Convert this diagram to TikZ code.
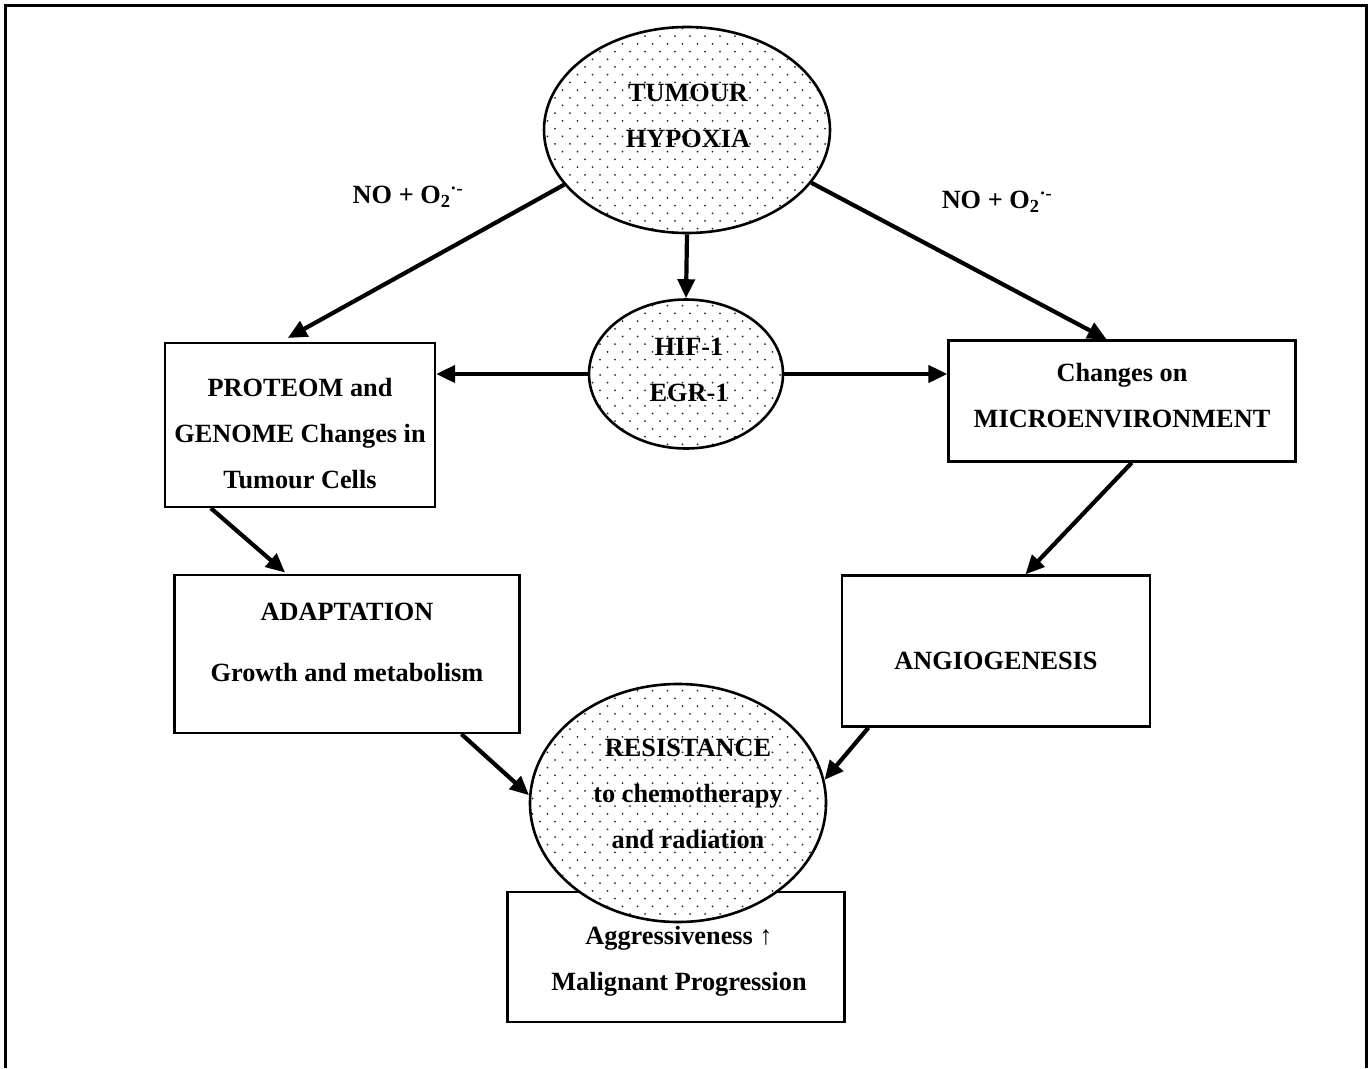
\documentclass[tikz,border=0pt]{standalone}
\usepackage{fontspec}
\setmainfont{Liberation Serif}
\usetikzlibrary{calc,patterns,shapes.geometric,arrows.meta}
\pgfdeclarepatternformonly{finedots}{\pgfqpoint{-1.2pt}{-1.2pt}}{\pgfqpoint{15pt}{15.4pt}}{\pgfqpoint{15pt}{15.4pt}}{%
	\pgfpathcircle{\pgfqpoint{0pt}{0pt}}{1pt}%
	\pgfpathcircle{\pgfqpoint{7.5pt}{7.7pt}}{1pt}%
	\pgfusepath{fill}}
\newcommand\bigbf{\bfseries\fontsize{26.3}{46}\selectfont}
\newcommand\superox{NO + O\textsubscript{2}\textsuperscript{·-}}

\begin{document}
\begin{tikzpicture}[x=1pt, y=-1pt,
		blob/.style={ellipse, draw, line width=2.6pt, inner sep=0pt, preaction={fill=white}, pattern=finedots, pattern color=black!85},
		box/.style={rectangle, draw, line width=2.3pt, inner sep=0pt},
		lbl/.style={font=\bigbf, align=center, inner sep=0pt},
		flow/.style={line width=4.2pt, -{Triangle[length=19pt,width=17pt]}}]
		%%%%% START %%%%%
		
		\useasboundingbox (0,0) rectangle (1370,1068);
		\draw[line width=3pt] (5,1068) -- (5,5) -- (1366,5) -- (1366,1068);
		
		\node[blob, minimum width=286, minimum height=206] (hyp) at (687,130) {};
		\node[blob, minimum width=194, minimum height=149] (hif) at (686,374) {};
		
		\node[box, minimum width=270, minimum height=164] (prot) at (300,425) {};
		\node[box, minimum width=347, minimum height=121] (micro) at (1122,401) {};
		\node[box, minimum width=345, minimum height=158] (adapt) at (347,654) {};
		\node[box, minimum width=308, minimum height=151] (angio) at (996,651) {};
		
		\node[box, minimum width=337, minimum height=130] (aggr) at (676,957) {};
		\node[blob, minimum width=296, minimum height=238] (res) at (678,803) {};
		
		\node[lbl] (hypT) at (688,116) {TUMOUR\\HYPOXIA};
		\node[lbl] (hifT) at (689,370) {HIF-1\\EGR-1};
		\node[lbl] (protT) at (300,434) {PROTEOM and\\GENOME Changes in\\Tumour Cells};
		\node[lbl] (microT) at (1122,396) {Changes on\\MICROENVIRONMENT};
		\node[lbl] (adaptT) at (347,642) {ADAPTATION\\[15pt]Growth and metabolism};
		\node[lbl] (angioT) at (996,661) {ANGIOGENESIS};
		\node[lbl] (resT) at (688,794) {RESISTANCE\\to chemotherapy\\and radiation};
		\node[lbl] (aggrT) at (679,961) {Aggressiveness ↑\\Malignant Progression};
		
		\node[lbl] (noL) at (408,197) {\superox};
		\node[lbl] (noR) at (997,202) {\superox};
		
		\draw[flow] (hyp.south) -- (hif.north);
		\draw[flow, shorten >=8pt] (hyp.204) -- (prot.103);
		\draw[flow] (hyp.337) -- (micro.104);
		\draw[flow] (hif.west) -- (hif.west -| prot.east);
		\draw[flow] (hif.east) -- (hif.east -| micro.west);
		\draw[flow, shorten >=2pt] (prot.223) -- (adapt.127);
		\draw[flow] (micro.279) -- (angio.69);
		\draw[flow] (adapt.325) -- (res.177);
		\draw[flow] (angio.211) -- (res.9);
		
		%%%%% END %%%%%
	\end{tikzpicture}
\end{document}
